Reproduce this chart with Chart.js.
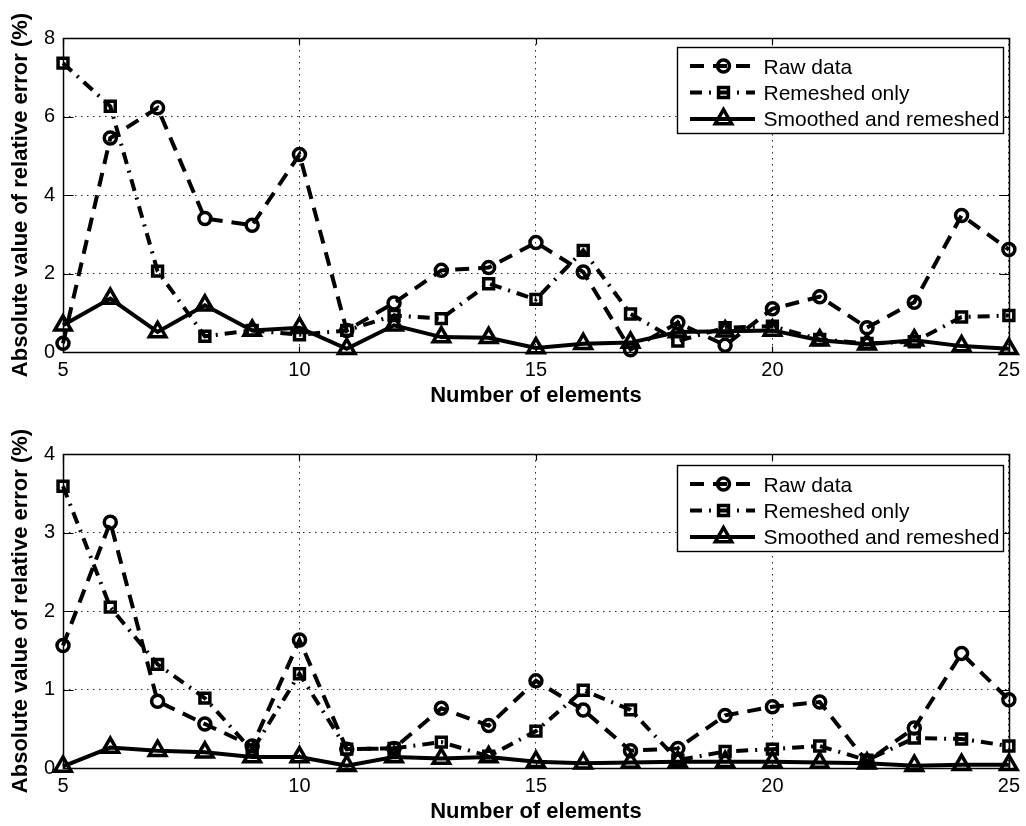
<!DOCTYPE html>
<html><head><meta charset="utf-8">
<script src="https://cdn.jsdelivr.net/npm/chart.js@4.4.1/dist/chart.umd.min.js"></script>
<style>
html,body{margin:0;padding:0;background:#fff;}
#wrap{position:relative;width:1026px;height:826px;overflow:hidden;background:#fff;}
canvas{position:absolute;left:0;}
</style></head><body>
<div id="wrap">
<canvas id="cTop" width="1026" height="413" style="top:0px"></canvas>
<canvas id="cBot" width="1026" height="413" style="top:413px"></canvas>
</div>
<script>
// ---------- data ----------
const elements = [5,6,7,8,9,10,11,12,13,14,15,16,17,18,19,20,21,22,23,24,25];
const xTickValues = [5,10,15,20,25];
const yTickValuesTop = [0,2,4,6,8];
const yTickValuesBot = [0,1,2,3,4];
const seriesNames = ['Raw data','Remeshed only','Smoothed and remeshed'];
const xTitle = 'Number of elements';
const yTitle = 'Absolute value of relative error (%)';

const rawTop      = [0.22,5.45,6.22,3.40,3.23,5.03,0.55,1.25,2.08,2.15,2.79,2.04,0.06,0.75,0.17,1.10,1.41,0.62,1.27,3.48,2.61];
const remeshedTop = [7.36,6.26,2.06,0.40,0.55,0.44,0.55,0.93,0.85,1.74,1.34,2.59,0.97,0.28,0.62,0.66,0.32,0.22,0.26,0.89,0.93];
const smoothedTop = [0.68,1.36,0.51,1.19,0.55,0.62,0.08,0.68,0.38,0.36,0.10,0.21,0.24,0.51,0.53,0.55,0.30,0.20,0.30,0.15,0.08];

const rawBot      = [1.56,3.13,0.85,0.56,0.28,1.63,0.24,0.25,0.76,0.54,1.11,0.74,0.22,0.25,0.67,0.78,0.84,0.08,0.51,1.46,0.87];
const remeshedBot = [3.59,2.05,1.32,0.89,0.22,1.20,0.24,0.25,0.33,0.15,0.47,0.99,0.74,0.10,0.21,0.24,0.28,0.10,0.38,0.37,0.28];
const smoothedBot = [0.02,0.26,0.22,0.20,0.14,0.14,0.03,0.14,0.12,0.14,0.08,0.06,0.07,0.08,0.08,0.08,0.07,0.06,0.03,0.04,0.04];

// ---------- styles ----------
const FONT = "'Liberation Sans', Arial, Helvetica, sans-serif";
const STY = [
  {dash:[14,9],      point:'circle',   r:6},
  {dash:[12,7,2,7],  point:'rect',     r:7},
  {dash:[],          point:'triangle', r:9.5}
];
const LINE_W = 4, MARK_W = 3.5;

function drawMarker(ctx, style, r, x, y){
  ctx.beginPath();
  if (style === 'circle') { ctx.arc(x, y, r, 0, Math.PI*2); }
  else if (style === 'rect') { const s = Math.SQRT1_2*r; ctx.rect(x-s, y-s, 2*s, 2*s); }
  else {
    let a = 0;
    ctx.moveTo(x + Math.sin(a)*r, y - Math.cos(a)*r);
    a += 2*Math.PI/3; ctx.lineTo(x + Math.sin(a)*r, y - Math.cos(a)*r);
    a += 2*Math.PI/3; ctx.lineTo(x + Math.sin(a)*r, y - Math.cos(a)*r);
    ctx.closePath();
  }
  ctx.stroke();
}

const framePlugin = {
  id: 'frame',
  beforeDatasetsDraw(chart){
    const ctx = chart.ctx, a = chart.chartArea;
    const L = Math.round(a.left)+0.5, R = Math.round(a.right)+0.5, T = Math.round(a.top)+0.5, B = Math.round(a.bottom)+0.5;
    ctx.save();
    ctx.setLineDash([]);
    ctx.strokeStyle = '#000';
    ctx.lineWidth = 1.5;
    ctx.strokeRect(L, T, R-L, B-T);
    ctx.lineWidth = 1.2;
    const xs = chart.scales.x, ys = chart.scales.y;
    xs.ticks.forEach(t => {
      const px = Math.round(xs.getPixelForValue(t.value))+0.5;
      ctx.beginPath(); ctx.moveTo(px, B); ctx.lineTo(px, B-6); ctx.moveTo(px, T); ctx.lineTo(px, T+6); ctx.stroke();
    });
    ys.ticks.forEach(t => {
      const py = Math.round(ys.getPixelForValue(t.value))+0.5;
      ctx.beginPath(); ctx.moveTo(L, py); ctx.lineTo(L+10, py); ctx.moveTo(R, py); ctx.lineTo(R-10, py); ctx.stroke();
    });
    ctx.restore();
  }
};

const legendPlugin = {
  id: 'mlegend',
  afterDraw(chart, args, opts){
    const ctx = chart.ctx;
    const x = opts.x, y = opts.y, w = opts.w, h = opts.h;
    ctx.save();
    ctx.fillStyle = '#fff';
    ctx.fillRect(x, y, w, h);
    ctx.strokeStyle = '#000';
    ctx.lineWidth = 1.4;
    ctx.setLineDash([]);
    ctx.strokeRect(x+0.5, y+0.5, w, h);
    const rows = [19, 45.5, 72];
    const base = [26.6, 52.6, 79.3];
    seriesNames.forEach((name, i) => {
      const st = STY[i];
      const ly = y + rows[i];
      ctx.strokeStyle = '#000';
      ctx.lineWidth = LINE_W;
      ctx.lineCap = 'butt';
      ctx.setLineDash(st.dash);
      ctx.beginPath(); ctx.moveTo(x+13, ly); ctx.lineTo(x+78, ly); ctx.stroke();
      ctx.setLineDash([]);
      ctx.lineWidth = MARK_W;
      drawMarker(ctx, st.point, st.r, x+46.5, ly);
      ctx.fillStyle = '#000';
      ctx.font = '21px ' + FONT;
      ctx.textAlign = 'left';
      ctx.textBaseline = 'alphabetic';
      ctx.fillText(name, x+86.5, y + base[i]);
    });
    ctx.restore();
  }
};

function makeChart(id, series, yTicks, yMax, padTop, xAxisH, titlePadBottom, legendBox){
  const datasets = series.map((vals, i) => ({
    label: seriesNames[i],
    data: elements.map((e, k) => ({x: e, y: vals[k]})),
    borderColor: '#000',
    backgroundColor: 'rgba(0,0,0,0)',
    borderWidth: LINE_W,
    borderDash: STY[i].dash,
    borderCapStyle: 'butt',
    borderJoinStyle: 'miter',
    pointStyle: STY[i].point,
    pointRadius: STY[i].r,
    pointHoverRadius: STY[i].r,
    pointBorderWidth: MARK_W,
    pointBorderColor: '#000',
    pointBackgroundColor: 'rgba(0,0,0,0)',
    tension: 0,
    fill: false,
    clip: false,
    order: 3 - i
  }));
  return new Chart(document.getElementById(id), {
    type: 'line',
    data: { datasets },
    plugins: [framePlugin, legendPlugin],
    options: {
      responsive: false,
      animation: false,
      devicePixelRatio: 1,
      events: [],
      layout: { padding: { top: padTop, right: 12, left: 0, bottom: 0 } },
      plugins: {
        legend: { display: false },
        tooltip: { enabled: false },
        mlegend: legendBox
      },
      scales: {
        x: {
          type: 'linear', min: 5, max: 25,
          afterBuildTicks: s => { s.ticks = xTickValues.map(v => ({value: v})); },
          afterFit: s => { s.height = xAxisH; },
          ticks: { color: '#000', font: { family: FONT, size: 20 }, padding: 6, maxRotation: 0, autoSkip: false },
          grid: { color: 'rgba(0,0,0,0.85)', lineWidth: 1, drawTicks: false },
          border: { display: false, dash: [1.5, 4.5] },
          title: { display: true, text: xTitle, color: '#000', font: { family: FONT, size: 22, weight: 'bold' }, padding: { top: 0, bottom: titlePadBottom } }
        },
        y: {
          type: 'linear', min: 0, max: yMax,
          afterBuildTicks: s => { s.ticks = yTicks.map(v => ({value: v})); },
          afterFit: s => { s.width = 63; },
          ticks: { color: '#000', font: { family: FONT, size: 20 }, padding: 8, autoSkip: false },
          grid: { color: 'rgba(0,0,0,0.85)', lineWidth: 1, drawTicks: false },
          border: { display: false, dash: [1.5, 4.5] },
          title: { display: true, text: yTitle, color: '#000', font: { family: FONT, size: 22, weight: 'bold' }, padding: { top: 8, bottom: 0 } }
        }
      }
    }
  });
}

makeChart('cTop', [rawTop, remeshedTop, smoothedTop], yTickValuesTop, 8, 38, 61, 4.3, {x: 677, y: 47, w: 326, h: 86});
makeChart('cBot', [rawBot, remeshedBot, smoothedBot], yTickValuesBot, 4, 41, 58, 1.3, {x: 677, y: 52, w: 326, h: 86});
</script>
</body></html>
